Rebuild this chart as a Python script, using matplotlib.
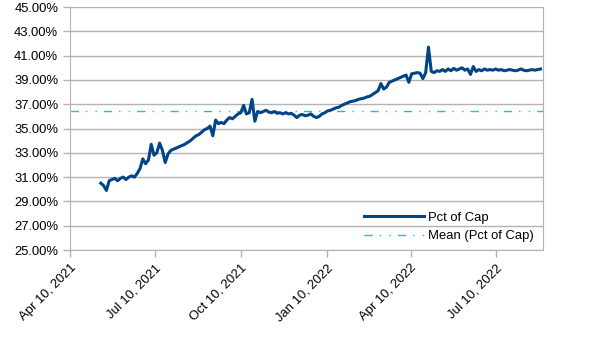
import matplotlib
matplotlib.use("Agg")
import matplotlib.pyplot as plt
import matplotlib.dates as mdates
import matplotlib.ticker as mticker
import pandas as pd

plt.rcParams['font.family'] = ['Liberation Sans', 'DejaVu Sans']

start_date = "2021-05-13"
step = "3D"
pct_of_cap = [
    30.5, 30.3, 29.9, 30.7, 30.8, 30.9, 30.7, 30.9, 31.0, 30.8,
    31.0, 31.1, 31.0, 31.3, 31.7, 32.5, 32.1, 32.4, 33.7, 32.8,
    33.0, 33.8, 33.2, 32.2, 32.9, 33.2, 33.3, 33.4, 33.5, 33.6,
    33.7, 33.85, 34.0, 34.2, 34.4, 34.5, 34.7, 34.9, 35.0, 35.2,
    34.4, 35.7, 35.4, 35.5, 35.4, 35.7, 35.9, 35.8, 36.0, 36.2,
    36.3, 36.9, 36.2, 36.3, 37.4, 35.6, 36.4, 36.3, 36.4, 36.5,
    36.35, 36.3, 36.4, 36.25, 36.3, 36.2, 36.3, 36.2, 36.25, 36.1,
    35.9, 36.1, 36.15, 36.05, 36.1, 36.2, 36.0, 35.9, 36.0, 36.2,
    36.3, 36.45, 36.5, 36.6, 36.7, 36.75, 36.9, 37.0, 37.1, 37.2,
    37.25, 37.3, 37.4, 37.45, 37.5, 37.6, 37.65, 37.8, 37.95, 38.1,
    38.7, 38.25, 38.4, 38.8, 38.9, 39.0, 39.1, 39.2, 39.3, 39.4,
    38.8, 39.5, 39.55, 39.6, 39.55, 39.1, 39.6, 41.7, 39.7, 39.6,
    39.75, 39.7, 39.85, 39.7, 39.9, 39.75, 39.95, 39.8, 39.9, 40.0,
    39.8, 39.9, 39.45, 40.1, 39.7, 39.85, 39.75, 39.9, 39.8, 39.85,
    39.8, 39.9, 39.8, 39.85, 39.75, 39.8, 39.85, 39.8, 39.75, 39.8,
    39.9, 39.8, 39.75, 39.8, 39.85, 39.8, 39.85, 39.9,
]
mean_pct = 36.44
x_ticks = ["2021-04-10", "2021-07-10", "2021-10-10", "2022-01-10", "2022-04-10", "2022-07-10"]
x_range = ["2021-04-10", "2022-08-30"]
y_ticks = [25, 27, 29, 31, 33, 35, 37, 39, 41, 43, 45]

dates = pd.date_range(start_date, periods=len(pct_of_cap), freq=step)
vals = [v / 100 for v in pct_of_cap]

fig = plt.figure(figsize=(6.05, 3.4), dpi=100)
ax = fig.add_axes([0.1157, 0.2647, 0.7823, 0.7147])

grid_c = '#b3b3b3'
ax.plot(dates, vals, color='#004586', lw=2.2, label='Pct of Cap', zorder=3)
ax.axhline(mean_pct / 100, color='#1cc6c8', lw=1.0, dashes=(6, 5, 1, 6, 1, 5),
           label='Mean (Pct of Cap)', zorder=2)

ax.set_ylim(0.25, 0.45)
ax.set_yticks([t / 100 for t in y_ticks])
ax.yaxis.set_major_formatter(mticker.FuncFormatter(lambda v, p: f"{v*100:.2f}%"))
ax.set_xlim(pd.Timestamp(x_range[0]), pd.Timestamp(x_range[1]))
ax.set_xticks([pd.Timestamp(t) for t in x_ticks])
ax.xaxis.set_major_formatter(mdates.DateFormatter('%b %d, %Y'))
plt.setp(ax.get_xticklabels(), rotation=45, ha='right', rotation_mode='anchor')

ax.grid(axis='y', color=grid_c, lw=1)
ax.set_axisbelow(True)
for s in ax.spines.values():
    s.set_color(grid_c)
ax.spines['top'].set_visible(False)
ax.tick_params(axis='both', colors=grid_c, labelcolor='black', labelsize=9.4, length=5, width=1)

leg = ax.legend(loc='lower right', bbox_to_anchor=(1.0, -0.005), frameon=False, fontsize=9.4,
                handlelength=4.6, handletextpad=0.35, labelspacing=0.45, borderaxespad=0.3)

fig.savefig('out.png', dpi=100)
